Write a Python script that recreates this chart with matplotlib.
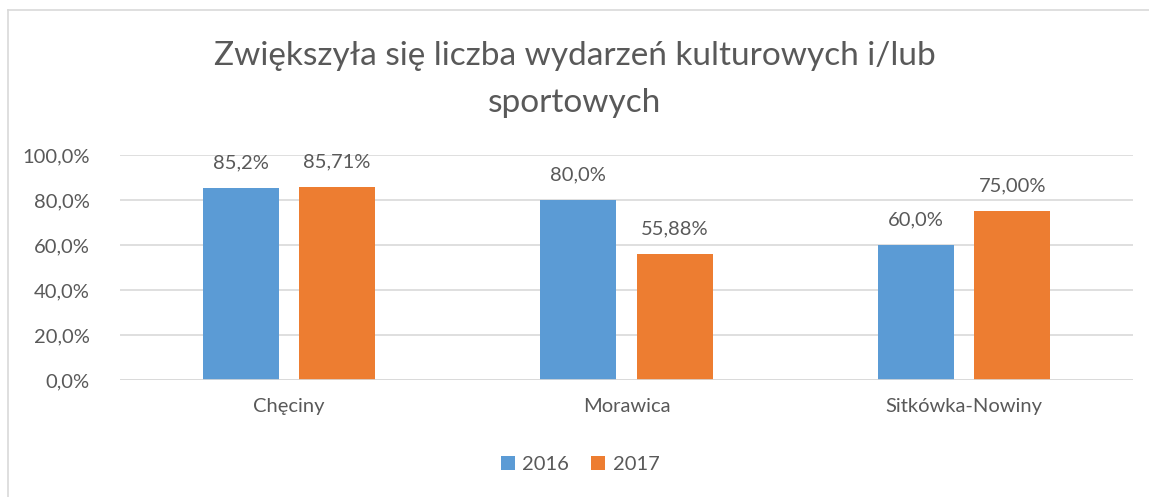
import matplotlib
matplotlib.use("Agg")
import matplotlib.pyplot as plt
from matplotlib.lines import Line2D
from matplotlib.patches import Patch

plt.rcParams['font.family'] = ['Lato', 'DejaVu Sans']

categories = ["Chęciny", "Morawica", "Sitkówka-Nowiny"]
series_names = ["2016", "2017"]
values_2016 = [85.2, 80.0, 60.0]
values_2017 = [85.71, 55.88, 75.00]
labels_2016 = ["85,2%", "80,0%", "60,0%"]
labels_2017 = ["85,71%", "55,88%", "75,00%"]
ytick_values = [0, 20, 40, 60, 80, 100]
ytick_labels = ["0,0%", "20,0%", "40,0%", "60,0%", "80,0%", "100,0%"]
title = "Zwiększyła się liczba wydarzeń kulturowych i/lub\nsportowych"

blue = "#5B9BD5"
orange = "#ED7D31"
text_color = "#595959"
grid_color = "#D9D9D9"
fs = 14.5

fig = plt.figure(figsize=(11.49, 4.97), dpi=100)
ax = fig.add_axes([0.1044, 0.2354, 0.8816, 0.4527])

x = range(len(categories))
w = 0.225
off = 0.1425
b1 = ax.bar([i - off for i in x], values_2016, w, color=blue, zorder=3)
b2 = ax.bar([i + off for i in x], values_2017, w, color=orange, zorder=3)

for bars, labs in ((b1, labels_2016), (b2, labels_2017)):
    for bar, lab in zip(bars, labs):
        ax.annotate(lab, (bar.get_x() + bar.get_width() / 2, bar.get_height()),
                    xytext=(0, 12), textcoords="offset points",
                    ha="center", va="bottom", fontsize=fs, color=text_color)

ax.set_xlim(-0.5, 2.5)
ax.set_ylim(0, 100)
ax.set_yticks(ytick_values)
ax.set_yticklabels(ytick_labels)
ax.set_xticks(list(x))
ax.set_xticklabels(categories)
ax.tick_params(axis="both", length=0, labelsize=fs, labelcolor=text_color)
ax.tick_params(axis="y", pad=22)
ax.tick_params(axis="x", pad=13)
ax.yaxis.grid(True, color=grid_color, linewidth=1.2, zorder=0)
for s in ax.spines.values():
    s.set_visible(False)
ax.axhline(0, color=grid_color, linewidth=1.2, zorder=4)

fig.text(0.5, 0.840, title, ha="center", va="center", fontsize=24,
         color=text_color, linespacing=1.7)

handles = [Patch(facecolor=blue), Patch(facecolor=orange)]
fig.legend(handles, series_names, loc="center", bbox_to_anchor=(0.505, 0.066),
           ncol=2, frameon=False, fontsize=fs, labelcolor=text_color,
           handlelength=0.7, handleheight=0.7, handletextpad=0.35, columnspacing=1.1)

# chart frame (top and left edges)
fig.add_artist(Line2D([8 / 1149, 8 / 1149], [0, 1 - 10 / 497], transform=fig.transFigure,
                      color="#D9D9D9", linewidth=1.2))
fig.add_artist(Line2D([8 / 1149, 1], [1 - 10 / 497, 1 - 10 / 497], transform=fig.transFigure,
                      color="#D9D9D9", linewidth=1.2))

fig.savefig("out.png", dpi=100, facecolor="white")
